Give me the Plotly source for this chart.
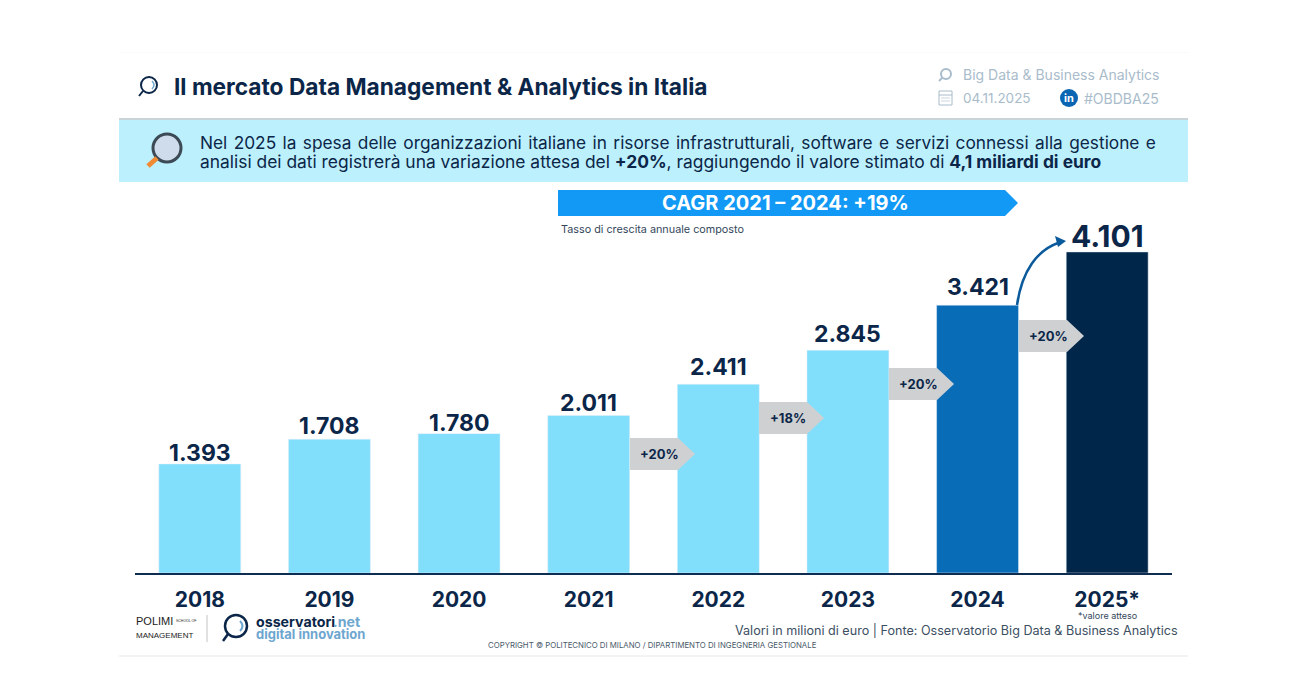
import plotly.graph_objects as go

W, H = 1300, 700
NAVY = '#0b2648'
GREY_TXT = '#a9bccb'
FONT = 'Inter'

years = ['2018', '2019', '2020', '2021', '2022', '2023', '2024', '2025*']
spesa = [1393, 1708, 1780, 2011, 2411, 2845, 3421, 4101]
bar_colors = ['#82dffc'] * 6 + ['#086cb7', '#00264a']
label_sizes = [23, 23, 23, 23, 23, 23, 23, 30]
label_gaps = [11, 13, 11, 13, 17, 16, 18, 16]
growth_labels = ['+20%', '+18%', '+20%', '+20%']
growth_from = ['2021', '2022', '2023', '2024']


# pixel -> paper, margins are 0 so paper is the whole picture
def fx(x):
    return x / W


def fy(y):
    return 1 - y / H


def poly(points, color):
    path = 'M ' + ' L '.join(f'{fx(x):.5f} {fy(y):.5f}' for x, y in points) + ' Z'
    return dict(type='path', path=path, xref='paper', yref='paper', fillcolor=color,
                line=dict(width=0), layer='above')


def rect(x0, y0, x1, y1, color, layer='below'):
    return dict(type='rect', x0=fx(x0), x1=fx(x1), y0=fy(y0), y1=fy(y1), xref='paper', yref='paper',
                fillcolor=color, line=dict(width=0), layer=layer)


def circle(cx, cy, r, line_color, fill='rgba(0,0,0,0)', width=2):
    return dict(type='circle', x0=fx(cx - r), x1=fx(cx + r), y0=fy(cy + r), y1=fy(cy - r),
                xref='paper', yref='paper', fillcolor=fill, line=dict(color=line_color, width=width), layer='above')


def seg(x0, y0, x1, y1, color, width=2):
    return dict(type='line', x0=fx(x0), x1=fx(x1), y0=fy(y0), y1=fy(y1), xref='paper', yref='paper',
                line=dict(color=color, width=width), layer='above')


def arc(cx, cy, r, color, width=1.5):
    # small bracket inside the lens icons
    return dict(type='path', xref='paper', yref='paper', layer='above', line=dict(color=color, width=width),
                path=f'M {fx(cx):.5f} {fy(cy - r):.5f} Q {fx(cx + r):.5f} {fy(cy):.5f} {fx(cx):.5f} {fy(cy + r):.5f}')


def txt(x, y, s, size, color=NAVY, anchor='left', family=FONT):
    # annotations carry about 2px of padding
    dx = {'left': -2, 'right': 2, 'center': 0}[anchor]
    return dict(x=fx(x + dx), y=fy(y), xref='paper', yref='paper', text=s, showarrow=False, xanchor=anchor,
                yanchor='middle', align=anchor, font=dict(size=size, color=color, family=family))


fig = go.Figure()
fig.add_trace(go.Bar(x=years, y=spesa, marker_color=bar_colors, width=0.632, hoverinfo='skip'))

shapes = [
    # slide edges and the blue band
    rect(119, 52, 1188, 53, '#fafafa'),
    rect(119, 655, 1188, 657, '#f3f3f3'),
    rect(119, 120, 1188, 182, '#bdf0fd'),
    rect(119, 118, 1188, 120, '#c9d3d8'),
    # CAGR arrow
    poly([(558, 190), (1005, 190), (1018, 203), (1005, 216), (558, 216)], '#1199f5'),
    # title icon
    circle(149, 85, 8, NAVY, width=2),
    arc(152, 85, 4, '#6ea6cf'),
    seg(143, 91, 139, 96, NAVY, 2),
    # band icon
    circle(167, 148, 14, '#3b4a55', '#cfdcec', 3),
    seg(157, 158, 148, 166, '#f08a33', 5),
    # header icons
    circle(946, 74, 5, '#a9bccb', width=2),
    seg(942, 78, 939, 81, '#a9bccb', 2),
    dict(type='rect', x0=fx(939), x1=fx(952), y0=fy(105), y1=fy(91), xref='paper', yref='paper',
         line=dict(color='#a9bccb', width=1), layer='above'),
    seg(939, 95, 952, 95, '#a9bccb', 1),
    seg(941, 98, 950, 98, '#c9d6e0', 1),
    seg(941, 101, 950, 101, '#c9d6e0', 1),
    circle(1069, 98, 9, '#0a66b2', '#0a66b2', 0),
    # footer logos
    circle(236, 626, 11, NAVY, width=2.5),
    arc(240, 626, 5, '#6ea6cf', 2),
    seg(228, 634, 223, 641, NAVY, 2.5),
    seg(207, 615, 207, 642, '#c4c4c4', 1),
    # curved arrow 2024 -> 2025
    dict(type='path', xref='paper', yref='paper', layer='above', line=dict(color='#0a5a9c', width=2.5),
         path=f'M {fx(1017):.5f} {fy(305):.5f} C {fx(1022):.5f} {fy(270):.5f} {fx(1038):.5f} {fy(250):.5f} '
              f'{fx(1058):.5f} {fy(243):.5f}'),
    poly([(1066, 241), (1055, 236), (1058, 247)], '#0a5a9c'),
]

line_one = ('Nel 2025 la spesa delle organizzazioni italiane in risorse infrastrutturali, software e servizi '
            'connessi alla gestione e').replace(' ', ' \u200a')
line_two = ('analisi dei dati registrerà una variazione attesa del <b>+20%</b>, raggiungendo il valore stimato '
            'di <b>4,1 miliardi di euro</b>')

annotations = [
    txt(174, 86, '<b>Il mercato Data Management &amp; Analytics in Italia</b>', 22.7),
    txt(963, 74, 'Big Data &amp; Business Analytics', 14, GREY_TXT),
    txt(963, 98, '04.11.2025', 13.5, GREY_TXT),
    txt(1084, 98, '#OBDBA25', 14, GREY_TXT),
    txt(1069, 98, '<b>in</b>', 11, 'white', 'center'),
    txt(200, 142, line_one, 17.27),
    txt(200, 161, line_two, 17.4),
    txt(785, 203, '<b>CAGR 2021 – 2024: +19%</b>', 20, 'white', 'center'),
    txt(561, 230, 'Tasso di crescita annuale composto', 10.8, '#33475b'),
    txt(1107, 615, '*valore atteso', 9, '#33475b', 'center'),
    txt(1178, 630, 'Valori in milioni di euro | Fonte: Osservatorio Big Data &amp; Business Analytics', 12.6, '#3c4f63', 'right'),
    txt(488, 645, 'COPYRIGHT © POLITECNICO DI MILANO / DIPARTIMENTO DI INGEGNERIA GESTIONALE', 7.8, '#4a5a6a'),
    txt(136, 621, 'POLIMI', 11, '#222222', family='Liberation Sans'),
    txt(176, 621, 'SCHOOL OF', 3.5, '#222222', family='Liberation Sans'),
    txt(136, 635, 'MANAGEMENT', 8, '#222222', family='Liberation Sans'),
    txt(256, 621, '<b>osservatori</b>', 14.2, NAVY),
    txt(333, 621, '<b>.net</b>', 14.2, '#6ea6cf'),
    txt(256, 634, '<b>digital innovation</b>', 13, '#6ea6cf'),
]

# value labels, the gap above the bar is not constant in the original
for i, (val, size, gap) in enumerate(zip(spesa, label_sizes, label_gaps)):
    annotations.append(dict(x=i, y=val, xref='x', yref='y', text=f'<b>{val:,}</b>'.replace(',', '.'),
                            showarrow=False, yanchor='middle', yshift=gap,
                            font=dict(size=size, color=NAVY, family=FONT)))

# grey tags between the bars, tied to the year they start from
tag_pos = {'2021': (630, 454), '2022': (759, 418), '2023': (889, 384), '2024': (1019, 336)}
for yr, lab in zip(growth_from, growth_labels):
    x0, yc = tag_pos[yr]
    shapes.append(poly([(x0, yc - 16), (x0 + 48, yc - 16), (x0 + 65, yc), (x0 + 48, yc + 16), (x0, yc + 16)], '#cfd0d2'))
    annotations.append(txt(x0 + 29, yc, f'<b>{lab}</b>', 13, NAVY, 'center'))

fig.update_layout(
    width=W, height=H,
    margin=dict(l=0, r=0, t=0, b=0),
    paper_bgcolor='white', plot_bgcolor='rgba(0,0,0,0)',
    showlegend=False,
    shapes=shapes,
    annotations=annotations,
    xaxis=dict(domain=[fx(135), fx(1172)], type='category', categoryorder='array', categoryarray=years,
               range=[-0.5, 7.5], showgrid=False, showline=True, linecolor='#0f2d50',
               linewidth=2, ticks='outside', ticklen=7, tickcolor='rgba(0,0,0,0)',
               tickfont=dict(size=21, color=NAVY, family=FONT, weight='bold')),
    yaxis=dict(domain=[fy(573), fy(221)], range=[0, 4496], visible=False),
)

fig.write_html('out.html', config={'displayModeBar': False}, post_script="document.body.style.margin='0';")
